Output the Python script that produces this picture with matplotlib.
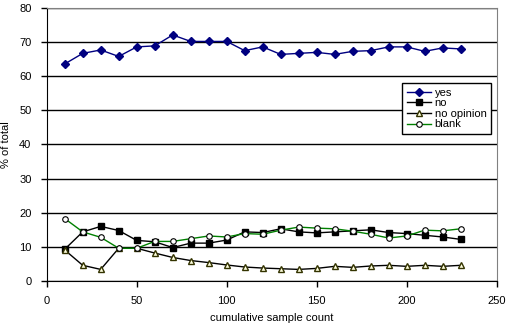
import matplotlib
matplotlib.use("Agg")
import matplotlib.pyplot as plt

plt.rcParams['font.family'] = ['Liberation Sans', 'DejaVu Sans']

# cumulative sample count
samples = [10, 20, 30, 40, 50, 60, 70, 80, 90, 100, 110, 120,
           130, 140, 150, 160, 170, 180, 190, 200, 210, 220, 230]

yes = [63.6, 66.7, 67.7, 65.8, 68.6, 68.9, 72.1, 70.2, 70.2, 70.2, 67.5, 68.6,
       66.4, 66.7, 67.0, 66.4, 67.3, 67.5, 68.6, 68.6, 67.3, 68.3, 68.0]
no = [9.3, 14.4, 16.0, 14.8, 11.9, 11.5, 9.8, 11.1, 11.1, 12.0, 14.4, 14.2,
      15.3, 14.4, 14.1, 14.4, 14.7, 15.0, 14.2, 13.9, 13.4, 12.9, 12.2]
no_opinion = [9.1, 4.6, 3.4, 9.6, 9.6, 8.2, 6.9, 6.0, 5.4, 4.7, 4.1, 3.8,
              3.6, 3.4, 3.7, 4.3, 4.0, 4.4, 4.6, 4.3, 4.6, 4.3, 4.6]
blank = [18.3, 14.4, 12.8, 9.6, 9.6, 11.6, 11.6, 12.4, 13.2, 12.9, 13.9, 13.7,
         14.9, 15.8, 15.5, 15.3, 14.6, 13.7, 12.6, 13.2, 14.9, 14.7, 15.3]

fig = plt.figure(figsize=(5.22, 3.26), dpi=100)
ax = fig.add_axes([0.0895, 0.138, 0.862, 0.8375])

ax.plot(samples, yes, '-', color='#000080', lw=1, marker='D', ms=4,
        mfc='#000080', mec='#000080', label='yes', zorder=3)
ax.plot(samples, no, '-', color='black', lw=1, marker='s', ms=4.5,
        mfc='black', mec='black', label='no', zorder=3)
ax.plot(samples, no_opinion, '-', color='black', lw=1, marker='^', ms=4.5,
        mfc='#ffffe0', mec='#333300', mew=1, label='no opinion', zorder=3)
ax.plot(samples, blank, '-', color='#008000', lw=1, marker='o', ms=4,
        mfc='white', mec='black', mew=0.8, label='blank', zorder=3)

ax.set_xlim(0, 250)
ax.set_ylim(0, 80)
ax.set_xticks(range(0, 251, 50))
ax.set_yticks(range(0, 81, 10))
ax.yaxis.grid(True, color='black', lw=1)
ax.set_axisbelow(True)

for side in ['top', 'right']:
    ax.spines[side].set_color('#808080')
for side in ['left', 'bottom']:
    ax.spines[side].set_color('black')

ax.tick_params(direction='out', length=4, width=1, labelsize=8, pad=7)
ax.set_xlabel('cumulative sample count', fontsize=8, labelpad=5)
ax.set_ylabel('% of total', fontsize=8, labelpad=6)

leg = ax.legend(loc='upper right', bbox_to_anchor=(0.987, 0.724),
                fontsize=8, frameon=True, fancybox=False, framealpha=1,
                edgecolor='black', handlelength=2.2, handletextpad=0.3,
                labelspacing=0.05, borderpad=0.4, borderaxespad=0)
leg.get_frame().set_linewidth(1)

fig.savefig('out.png', dpi=100)
